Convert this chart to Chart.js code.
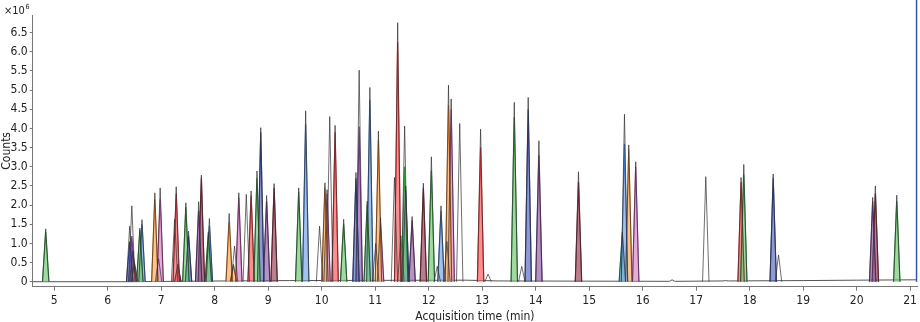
<!DOCTYPE html>
<html>
<head>
<meta charset="utf-8">
<script src="https://cdn.jsdelivr.net/npm/chart.js@4/dist/chart.umd.min.js"></script>
<style>
  html, body { margin: 0; padding: 0; background: #fff; }
  #wrap { width: 920px; height: 322px; }
</style>
</head>
<body>
<div id="wrap"><canvas id="chart" width="920" height="322"></canvas></div>
<script>
// peak table (counts in millions)
const peakTimes = [
  4.84, 6.41, 6.45, 6.47, 6.50, 6.60, 6.64, 6.88, 6.95, 6.98,
  7.25, 7.28, 7.31, 7.46, 7.51, 7.70, 7.75, 7.88, 7.90, 8.27,
  8.35, 8.37, 8.45, 8.59, 8.68, 8.79, 8.86, 8.97, 9.11, 9.57,
  9.70, 9.96, 10.06, 10.10, 10.15, 10.25, 10.41, 10.64, 10.70, 10.85,
  10.90, 11.01, 11.06, 11.10, 11.36, 11.42, 11.48, 11.55, 11.57, 11.69,
  11.90, 12.05, 12.16, 12.23, 12.34, 12.37, 12.42, 12.58, 12.97, 13.11,
  13.60, 13.74, 13.86, 14.06, 14.80, 15.62, 15.66, 15.74, 15.87, 17.18,
  17.84, 17.89, 18.44, 18.54, 20.30, 20.35, 20.75
];
const peakTops = [
  1.38, 1.45, 1.98, 0.80, 0.50, 1.40, 1.62, 2.32, 0.60, 2.45,
  1.63, 2.48, 0.45, 2.06, 1.32, 2.09, 2.78, 1.30, 1.65, 1.78,
  0.45, 0.93, 2.32, 2.28, 2.37, 2.89, 4.02, 2.25, 2.56, 2.45,
  4.46, 1.45, 2.58, 2.40, 4.31, 4.08, 1.63, 2.85, 5.52, 2.10,
  5.07, 1.00, 3.93, 1.67, 2.72, 6.76, 1.20, 4.06, 2.50, 1.70,
  2.57, 3.26, 0.40, 1.98, 1.05, 5.13, 4.77, 4.13, 3.98, 0.20,
  4.68, 0.40, 4.81, 3.68, 2.87, 1.30, 4.37, 3.57, 3.13, 2.74,
  2.72, 3.06, 2.81, 0.70, 2.20, 2.50, 2.26
];
const ionTops = [
  1.30, 1.05, 1.19, 0.78, 0.45, 1.35, 1.50, 2.15, null, 2.15,
  null, 2.30, 0.40, 1.95, 1.20, 1.85, 2.70, 1.25, 1.45, 1.55,
  0.40, null, 2.20, null, 2.25, 2.70, 3.90, 2.10, 2.45, 2.35,
  4.10, null, 2.45, 2.30, null, 3.90, 1.50, 2.70, 4.05, 2.00,
  4.75, null, 3.70, 1.50, null, 6.25, null, 3.00, 2.40, 1.60,
  2.45, 2.90, null, 1.85, null, 4.60, 4.50, null, 3.50, null,
  4.30, null, 4.50, 3.30, 2.60, 1.25, 3.60, 3.45, 3.00, null,
  2.60, 2.80, 2.70, null, 2.10, 2.30, 2.10
];
const ionColors = [
  "green", "navy", "purple", "maroon", "red", "green", "blue", "orange", "", "pink",
  "", "red", "maroon", "green", "navy", "purple", "maroon", "green", "blue", "orange",
  "orange", "", "pink", "", "red", "green", "navy", "purple", "maroon", "green",
  "blue", "", "orange", "pink", "", "red", "green", "navy", "purple", "green",
  "blue", "", "orange", "pink", "", "red", "", "green", "navy", "purple",
  "maroon", "green", "", "blue", "", "orange", "pink", "", "red", "",
  "green", "", "navy", "purple", "maroon", "teal", "blue", "orange", "pink", "",
  "red", "green", "navy", "", "purple", "maroon", "green"
];
const baselineTimes = [4.60, 6.35, 8.20, 9.40, 12.70, 13.30, 16.50, 16.55, 16.60, 17.50, 17.55, 17.60, 19.00, 20.00, 21.12];
const baselineCounts = [0, 0, 0.02, 0.03, 0.04, 0.02, 0.01, 0.05, 0.01, 0.02, 0.03, 0.02, 0.03, 0.04, 0.05];
const cursorTime = 21.12;

const xTicks = [5, 6, 7, 8, 9, 10, 11, 12, 13, 14, 15, 16, 17, 18, 19, 20, 21];
const yTicks = [0, 0.5, 1.0, 1.5, 2.0, 2.5, 3.0, 3.5, 4.0, 4.5, 5.0, 5.5, 6.0, 6.5];

const palette = {
  green:  ["#2f9a3c", "rgba(110,196,112,0.65)"],
  blue:   ["#3b78c9", "rgba(118,164,228,0.68)"],
  navy:   ["#2d3f9c", "rgba(84,100,186,0.65)"],
  red:    ["#ee2b30", "rgba(248,100,104,0.72)"],
  orange: ["#f57f17", "rgba(251,176,108,0.75)"],
  pink:   ["#c24fb2", "rgba(216,136,204,0.7)"],
  purple: ["#78388c", "rgba(146,96,166,0.68)"],
  maroon: ["#8a1c30", "rgba(154,66,86,0.68)"],
  teal:   ["#2a9a8a", "rgba(96,192,172,0.68)"]
};
const PEAK_HALF = 0.06;
const FONT = "'Liberation Sans Narrow', 'DejaVu Sans Condensed', 'Liberation Sans', sans-serif";

function peakShape(t, h) {
  return [{x: t - PEAK_HALF, y: 0}, {x: t, y: h}, {x: t + PEAK_HALF, y: 0}, {x: t + PEAK_HALF, y: null}];
}

const ticTrace = [];
peakTimes.forEach((t, i) => ticTrace.push(...peakShape(t, peakTops[i])));

const ionSets = Object.keys(palette).map(name => {
  const pts = [];
  peakTimes.forEach((t, i) => {
    if (ionColors[i] === name) pts.push(...peakShape(t, ionTops[i]));
  });
  return {
    data: pts,
    borderColor: palette[name][0],
    backgroundColor: palette[name][1],
    borderWidth: 1.2,
    fill: "origin",
    order: 2
  };
});

const datasets = [
  {data: ticTrace, borderColor: "rgba(50,50,50,0.7)", borderWidth: 1, fill: false, order: 1},
  {data: [{x: cursorTime, y: 0}, {x: cursorTime, y: 7.4}], borderColor: "#3456a8", borderWidth: 1.5,
   fill: false, order: 0, clip: false},
  ...ionSets,
  {data: baselineTimes.map((t, i) => ({x: t, y: baselineCounts[i]})), borderColor: "#555",
   borderWidth: 1, fill: false, order: 3}
];

const exponentLabel = {
  id: "exponentLabel",
  afterDraw(chart) {
    const ctx = chart.ctx;
    ctx.save();
    ctx.fillStyle = "#222";
    ctx.textBaseline = "alphabetic";
    ctx.font = "11px " + FONT;
    ctx.fillText("×10", 4, 14);
    const w = ctx.measureText("×10").width;
    ctx.font = "7px " + FONT;
    ctx.fillText("6", 4 + w + 0.5, 9);
    ctx.restore();
  }
};

new Chart("chart", {
  type: "line",
  data: {datasets: datasets},
  plugins: [exponentLabel],
  options: {
    responsive: false,
    animation: false,
    events: [],
    spanGaps: false,
    elements: {point: {radius: 0}, line: {tension: 0}},
    layout: {padding: {top: 15, right: 1, left: 0, bottom: 0}},
    plugins: {legend: {display: false}, tooltip: {enabled: false}},
    scales: {
      x: {
        type: "linear",
        min: 4.597,
        max: 21.13,
        afterBuildTicks: s => { s.ticks = xTicks.map(v => ({value: v})); },
        afterFit: s => { s.height = 35.3; },
        grid: {drawOnChartArea: false, drawTicks: true, tickLength: 4, color: "#777"},
        border: {display: true, color: "#777", width: 1},
        ticks: {padding: 3, maxRotation: 0, autoSkip: false, color: "#222",
                font: {family: FONT, size: 12}, callback: v => String(v)},
        title: {display: true, text: "Acquisition time (min)", color: "#222",
                font: {family: FONT, size: 12}, padding: {top: 0, bottom: -2}}
      },
      y: {
        type: "linear",
        min: -0.13,
        max: 6.96,
        afterBuildTicks: s => { s.ticks = yTicks.map(v => ({value: v})); },
        afterFit: s => { s.width = 32.7; },
        grid: {drawOnChartArea: false, drawTicks: true, tickLength: 3, color: "#777"},
        border: {display: true, color: "#777", width: 1},
        ticks: {padding: 2, autoSkip: false, color: "#222", font: {family: FONT, size: 12},
                callback: v => v === 0 ? "0" : v.toFixed(1)},
        title: {display: true, text: "Counts", color: "#222",
                font: {family: FONT, size: 12}, padding: {top: 0, bottom: 0}}
      }
    }
  }
});
</script>
</body>
</html>
